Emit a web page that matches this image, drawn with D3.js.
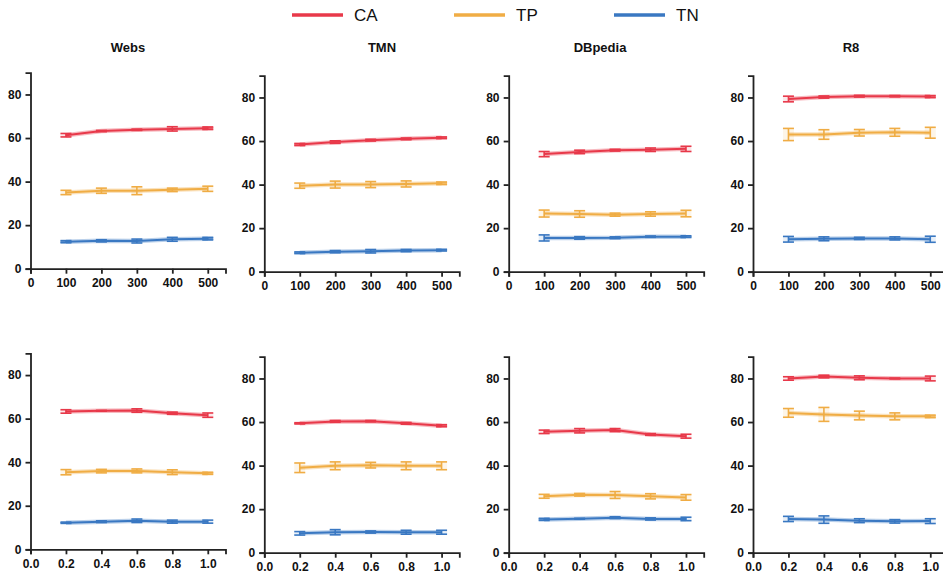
<!DOCTYPE html>
<html>
<head>
<meta charset="utf-8">
<script src="https://cdn.jsdelivr.net/npm/d3@7"></script>
<style>
  body { margin: 0; background: #fff; }
  svg { font-family: "Liberation Sans", Arial, sans-serif; }
  .axis path, .axis line { stroke: #222; stroke-width: 1.8px; }
  .axis text { font-size: 12px; font-weight: bold; fill: #111; }
</style>
</head>
<body>
<script>
// canvas
var w = 943;
var h = 577;

// data
var seriesNames = ['CA', 'TP', 'TN'];
var seriesColors = ['#E8394A', '#F0AD45', '#3A78C2'];
var datasets = ['Webs', 'TMN', 'DBpedia', 'R8'];

var xTop = [100, 200, 300, 400, 500];
var xBottom = [0.2, 0.4, 0.6, 0.8, 1.0];
var xTopTicks = [0, 100, 200, 300, 400, 500];
var xBottomTicks = [0.0, 0.2, 0.4, 0.6, 0.8, 1.0];
var yTicks = [0, 20, 40, 60, 80];

// top row: mean values (CA, TP, TN) per dataset
var topCA = [
  [61.3, 63.2, 63.8, 64.2, 64.5],
  [58.4, 59.5, 60.4, 61.0, 61.5],
  [54.0, 55.0, 55.8, 56.0, 56.4],
  [79.3, 80.2, 80.6, 80.6, 80.4]
];
var topCAerr = [
  [0.8, 0.3, 0.3, 1.0, 0.6],
  [0.5, 0.6, 0.4, 0.4, 0.4],
  [1.2, 0.8, 0.4, 0.8, 1.2],
  [1.3, 0.5, 0.4, 0.3, 0.5]
];
var topTP = [
  [35.0, 35.8, 35.8, 36.2, 36.7],
  [39.5, 40.0, 40.0, 40.3, 40.6],
  [26.7, 26.5, 26.2, 26.5, 26.7],
  [63.0, 63.0, 63.8, 64.0, 63.8]
];
var topTPerr = [
  [1.0, 1.2, 1.8, 0.8, 1.2],
  [1.2, 1.6, 1.4, 1.4, 0.6],
  [1.6, 1.5, 0.7, 1.0, 1.5],
  [2.8, 2.2, 1.5, 1.8, 2.5]
];
var topTN = [
  [12.4, 12.8, 12.7, 13.5, 13.8],
  [8.7, 9.2, 9.4, 9.7, 9.9],
  [15.5, 15.5, 15.6, 16.1, 16.1],
  [14.9, 15.1, 15.3, 15.3, 14.9]
];
var topTNerr = [
  [0.5, 0.5, 0.9, 0.9, 0.6],
  [0.4, 0.5, 0.8, 0.5, 0.4],
  [1.4, 0.6, 0.4, 0.3, 0.4],
  [1.3, 0.9, 0.5, 0.7, 1.4]
];

// bottom row
var botCA = [
  [63.3, 63.6, 63.7, 62.5, 61.6],
  [59.4, 60.3, 60.4, 59.4, 58.3],
  [55.5, 56.0, 56.3, 54.3, 53.5],
  [80.0, 80.9, 80.3, 80.0, 80.0]
];
var botCAerr = [
  [0.8, 0.2, 0.8, 0.5, 1.0],
  [0.3, 0.4, 0.3, 0.4, 0.5],
  [0.8, 1.0, 0.7, 0.4, 0.9],
  [0.8, 0.6, 0.9, 0.2, 1.1]
];
var botTP = [
  [35.4, 35.9, 36.0, 35.4, 34.9],
  [39.0, 39.9, 40.2, 39.9, 39.9],
  [25.9, 26.6, 26.5, 25.9, 25.4],
  [64.2, 63.5, 63.0, 62.6, 62.6]
];
var botTPerr = [
  [1.2, 0.8, 0.9, 1.1, 0.5],
  [2.2, 1.8, 1.3, 1.8, 1.8],
  [0.9, 0.6, 1.6, 1.2, 1.3],
  [2.0, 3.2, 2.0, 1.6, 0.6]
];
var botTN = [
  [12.2, 12.7, 13.1, 12.7, 12.7],
  [8.9, 9.4, 9.5, 9.4, 9.4],
  [15.3, 15.6, 16.1, 15.5, 15.5],
  [15.5, 15.2, 14.7, 14.4, 14.5]
];
var botTNerr = [
  [0.3, 0.4, 0.8, 0.7, 0.7],
  [0.8, 1.2, 0.5, 0.9, 0.9],
  [0.5, 0.2, 0.4, 0.5, 0.8],
  [1.2, 1.7, 0.9, 0.8, 1.1]
];

// layout of the 8 panels (y-axis x position, baseline y)
var panelW = 195;
var panelH = 196;
var colX = [30.5, 264.3, 508.7, 753];
var rowY = [[268.7, 271.7, 271.7, 271.7], [549.3, 552.7, 552.7, 552.7]];
var titleX = [128, 382, 600, 851];

var svg = d3.select("body")
  .append("svg")
  .attr("width", w)
  .attr("height", h);

// legend
var legend = svg.append('g');
var legendX = [292, 454, 614];
seriesNames.forEach(function (name, i) {
  legend.append('line')
    .attr('x1', legendX[i]).attr('x2', legendX[i] + 51)
    .attr('y1', 15).attr('y2', 15)
    .attr('stroke', seriesColors[i])
    .attr('stroke-width', 3.5);
  legend.append('text')
    .attr('x', legendX[i] + 62)
    .attr('y', 21)
    .style('font-size', '17px')
    .attr('fill', '#111')
    .text(name);
});

function drawPanel(row, col) {
  var x0 = colX[col];
  var y0 = rowY[row][col];
  var g = svg.append('g').attr('transform', `translate(${x0}, ${y0 - panelH})`);

  var xs = row === 0 ? xTop : xBottom;
  var xScale = d3.scaleLinear()
    .domain(row === 0 ? [0, 550] : [0, 1.1])
    .range([0, panelW]);
  var yScale = d3.scaleLinear()
    .domain([0, 90])
    .range([panelH, 0]);

  var xAxis = d3.axisBottom(xScale)
    .tickValues(row === 0 ? xTopTicks : xBottomTicks)
    .tickSizeOuter(0)
    .tickSize(5)
    .tickFormat(row === 0 ? d3.format('d') : d3.format('.1f'));
  var yAxis = d3.axisLeft(yScale)
    .tickValues(yTicks)
    .tickSizeOuter(0)
    .tickSize(5);

  g.append('g')
    .attr('class', 'axis')
    .attr('transform', `translate(0, ${panelH})`)
    .call(xAxis)
    .call(a => a.selectAll('text').attr('dy', '0.9em'));
  g.append('g')
    .attr('class', 'axis')
    .call(yAxis)
    .call(a => a.selectAll('text').attr('dx', '-0.1em'));

  if (row === 0) {
    svg.append('text')
      .attr('x', titleX[col])
      .attr('y', 52)
      .attr('text-anchor', 'middle')
      .style('font-size', '13px')
      .style('font-weight', 'bold')
      .attr('fill', '#111')
      .text(datasets[col]);
  }

  var means = row === 0 ? [topCA[col], topTP[col], topTN[col]] : [botCA[col], botTP[col], botTN[col]];
  var errs = row === 0 ? [topCAerr[col], topTPerr[col], topTNerr[col]] : [botCAerr[col], botTPerr[col], botTNerr[col]];

  var line = d3.line()
    .x((d, i) => xScale(xs[i]))
    .y(d => yScale(d));

  means.forEach(function (vals, s) {
    var color = seriesColors[s];
    var sg = g.append('g');
    // soft halo under the line
    sg.append('path')
      .datum(vals)
      .attr('d', line)
      .attr('fill', 'none')
      .attr('stroke', color)
      .attr('stroke-opacity', 0.35)
      .attr('stroke-width', 4.5);
    sg.append('path')
      .datum(vals)
      .attr('d', line)
      .attr('fill', 'none')
      .attr('stroke', color)
      .attr('stroke-width', 2);

    // error bars
    var bars = sg.selectAll('.eb')
      .data(vals)
      .enter()
      .append('g')
      .attr('class', 'eb')
      .attr('stroke', color)
      .attr('stroke-width', 1.6);
    bars.append('line')
      .attr('x1', (d, i) => xScale(xs[i]))
      .attr('x2', (d, i) => xScale(xs[i]))
      .attr('y1', (d, i) => yScale(d - errs[s][i]))
      .attr('y2', (d, i) => yScale(d + errs[s][i]));
    bars.append('line')
      .attr('x1', (d, i) => xScale(xs[i]) - 5.5)
      .attr('x2', (d, i) => xScale(xs[i]) + 5.5)
      .attr('y1', (d, i) => yScale(d + errs[s][i]))
      .attr('y2', (d, i) => yScale(d + errs[s][i]));
    bars.append('line')
      .attr('x1', (d, i) => xScale(xs[i]) - 5.5)
      .attr('x2', (d, i) => xScale(xs[i]) + 5.5)
      .attr('y1', (d, i) => yScale(d - errs[s][i]))
      .attr('y2', (d, i) => yScale(d - errs[s][i]));
    // light fill between caps
    bars.append('rect')
      .attr('x', (d, i) => xScale(xs[i]) - 5.5)
      .attr('y', (d, i) => yScale(d + errs[s][i]))
      .attr('width', 11)
      .attr('height', (d, i) => yScale(d - errs[s][i]) - yScale(d + errs[s][i]))
      .attr('fill', color)
      .attr('fill-opacity', (d, i) => errs[s][i] < 0.7 ? 0.8 : 0.12)
      .attr('stroke', 'none');
  });
}

[0, 1].forEach(function (row) {
  [0, 1, 2, 3].forEach(function (col) {
    drawPanel(row, col);
  });
});
</script>
</body>
</html>
